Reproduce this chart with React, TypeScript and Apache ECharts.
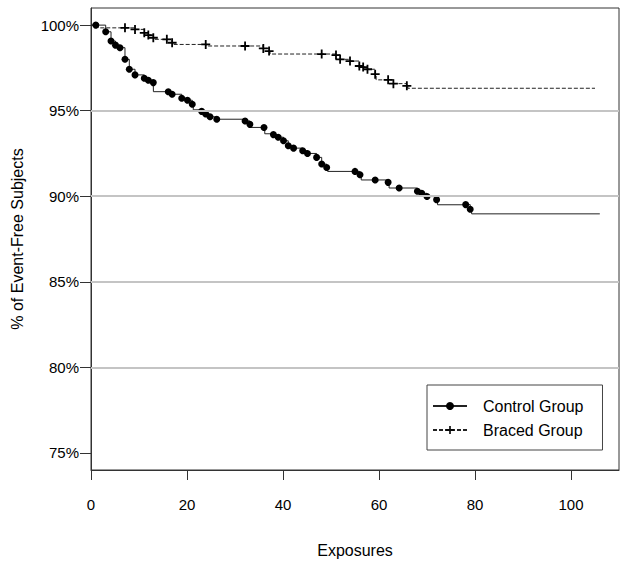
import React, { useEffect, useRef } from "react";
import * as echarts from "echarts";

// [exposures, % event-free, censor mark (1) or step only (0)]
const controlSteps: [number, number, number][] = [
  [0, 100, 0], [1, 100, 1], [3.06, 99.61, 1], [4.17, 99.07, 1], [5.1, 98.83, 1],
  [6.04, 98.68, 1], [7.08, 98.0, 1], [7.98, 97.42, 1], [9.17, 97.09, 1],
  [11.1, 96.89, 1], [11.94, 96.78, 1], [12.98, 96.64, 1], [13.0, 96.11, 0],
  [16.1, 96.11, 1], [16.9, 95.96, 1], [18.9, 95.73, 1], [20.1, 95.61, 1],
  [21.1, 95.38, 1], [21.3, 95.05, 0], [23.05, 94.96, 1], [23.9, 94.8, 1],
  [24.8, 94.64, 1], [26.2, 94.5, 1], [32.1, 94.4, 1], [33.1, 94.2, 1],
  [33.3, 94.02, 0], [36.04, 94.02, 1], [36.2, 93.65, 0], [38, 93.6, 1],
  [39, 93.45, 1], [40.1, 93.24, 1], [41.1, 92.95, 1], [42.2, 92.81, 1],
  [44.1, 92.66, 1], [45.1, 92.5, 1], [47.0, 92.27, 1], [48.06, 91.88, 1],
  [49.1, 91.68, 1], [49.3, 91.45, 0], [55, 91.45, 1], [56.04, 91.26, 1],
  [56.3, 90.95, 0], [59.2, 90.95, 1], [61.9, 90.81, 1], [62.1, 90.48, 0],
  [64.2, 90.48, 1], [68, 90.29, 1], [68.9, 90.17, 1], [70, 89.98, 1],
  [72, 89.8, 1], [72.2, 89.5, 0], [78.06, 89.51, 1], [79, 89.24, 1],
  [79.3, 88.97, 0], [106, 88.97, 0],
];

const bracedSteps: [number, number, number][] = [
  [0, 100, 0], [1.5, 99.84, 0], [7.08, 99.84, 1], [9.17, 99.75, 1],
  [11.1, 99.55, 1], [11.94, 99.42, 1], [12.98, 99.26, 1], [13.2, 99.17, 0],
  [15.8, 99.17, 1], [16.9, 98.97, 1], [17.1, 98.87, 0], [23.9, 98.87, 1],
  [24.1, 98.78, 0], [32.1, 98.78, 1], [35.9, 98.64, 1], [37.1, 98.48, 1],
  [37.3, 98.31, 0], [48.06, 98.31, 1], [51.04, 98.25, 1], [51.9, 98.0, 1],
  [53.96, 97.9, 1], [55.9, 97.61, 1], [56.7, 97.55, 1], [57.6, 97.42, 1],
  [59.2, 97.13, 1], [59.4, 96.8, 0], [61.9, 96.8, 1], [63, 96.58, 1],
  [65.8, 96.45, 1], [66, 96.31, 0], [105, 96.31, 0],
];

const seriesNames = ["Control Group", "Braced Group"];
const yTicks = [75, 80, 85, 90, 95, 100];
const xTicks = [0, 20, 40, 60, 80, 100];
const gridLineValues = [80, 85, 90, 95];

const FONT = '"Liberation Sans", Arial, Helvetica, sans-serif';
const PLUS = "path://M4,0H6V4H10V6H6V10H4V6H0V4H4Z";

function toData(steps: [number, number, number][]) {
  return steps.map(([x, y, c]) =>
    c ? { value: [x, y] } : { value: [x, y], symbol: "none" }
  );
}

export default function App() {
  const ref = useRef<HTMLDivElement>(null);
  useEffect(() => {
    if (!ref.current) return;
    const chart = echarts.init(ref.current, null, { renderer: "svg" });
    chart.setOption({
      animation: false,
      backgroundColor: "#fff",
      textStyle: { fontFamily: FONT },
      grid: {
        left: 91, right: 10, top: 8, bottom: 99,
        show: true, borderColor: "#333", borderWidth: 1, containLabel: false,
      },
      legend: {
        data: seriesNames,
        orient: "vertical",
        left: 427,
        top: 385,
        padding: [13, 19, 12, 5],
        itemWidth: 34,
        itemHeight: 10,
        itemGap: 8,
        borderColor: "#444",
        borderWidth: 1,
        textStyle: { fontFamily: FONT, fontSize: 16, color: "#000", padding: [0, 0, 0, 11] },
      },
      xAxis: {
        type: "value",
        min: 0,
        max: 110,
        name: "Exposures",
        nameLocation: "middle",
        nameGap: 72,
        nameTextStyle: { fontFamily: FONT, fontSize: 16, color: "#000" },
        axisLine: { show: true, lineStyle: { color: "#333", width: 1 } },
        axisTick: { show: true, length: 10, customValues: xTicks, lineStyle: { color: "#333" } },
        axisLabel: {
          customValues: xTicks, margin: 27, fontSize: 15, color: "#000", fontFamily: FONT,
        },
        splitLine: { show: false },
      },
      yAxis: {
        type: "value",
        min: 74,
        max: 101,
        name: "% of Event-Free Subjects",
        nameLocation: "middle",
        nameGap: 66,
        nameTextStyle: { fontFamily: FONT, fontSize: 16, color: "#000" },
        axisLine: { show: true, lineStyle: { color: "#333", width: 1 } },
        axisTick: { show: true, length: 11, customValues: yTicks, lineStyle: { color: "#333" } },
        axisLabel: {
          customValues: yTicks, margin: 12, fontSize: 15, color: "#000", fontFamily: FONT,
          formatter: (v: number) => `${v}%`,
        },
        splitLine: { show: false },
      },
      series: [
        {
          name: "grid",
          type: "line",
          data: [],
          silent: true,
          markLine: {
            silent: true,
            symbol: "none",
            label: { show: false },
            lineStyle: { color: "#c4c4c4", width: 2, type: "solid" },
            data: gridLineValues.map((v) => ({ yAxis: v })),
          },
        },
        {
          name: seriesNames[0],
          type: "line",
          step: "end",
          data: toData(controlSteps),
          symbol: "circle",
          symbolSize: 7,
          showSymbol: true,
          lineStyle: { color: "#222", width: 1, type: "solid" },
          itemStyle: { color: "#000" },
          z: 3,
        },
        {
          name: seriesNames[1],
          type: "line",
          step: "end",
          data: toData(bracedSteps),
          symbol: PLUS,
          symbolSize: 9,
          showSymbol: true,
          lineStyle: { color: "#222", width: 1, type: [4, 2] },
          itemStyle: { color: "#000" },
          z: 3,
        },
      ],
    });
    return () => chart.dispose();
  }, []);
  return (
    <div
      ref={ref}
      style={{ position: "fixed", left: 0, top: 0, width: 629, height: 569, background: "#fff" }}
    />
  );
}
